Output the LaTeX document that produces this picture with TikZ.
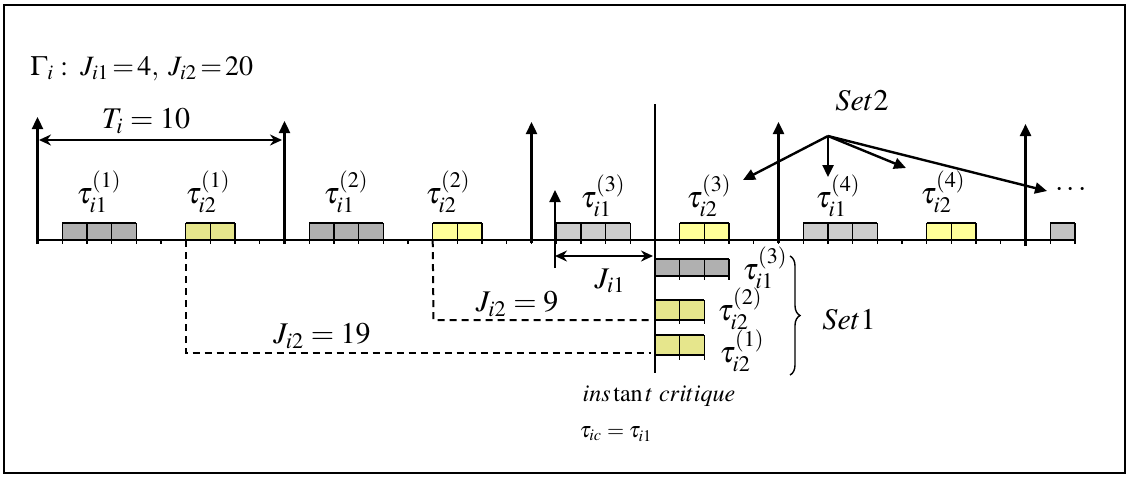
\documentclass[tikz,border=0pt]{standalone}
\usepackage{mathptmx}
\usepackage[no-math]{fontspec}
\setmainfont{Liberation Serif}
\usetikzlibrary{arrows.meta,decorations.pathreplacing}
\definecolor{gdark}{HTML}{B0B0B0}
\definecolor{glight}{HTML}{CDCDCD}
\definecolor{gmid}{HTML}{C2C2C2}
\definecolor{ygreen}{HTML}{E6E68C}
\definecolor{ylight}{HTML}{FFFF99}
\tikzset{
  rel/.style={line width=1.2pt,-{Triangle[length=6pt,width=5.5pt]}},
  span/.style={line width=1pt,{Stealth[length=6pt,width=5.5pt]}-{Stealth[length=6pt,width=5.5pt]}},
  setarrow/.style={line width=1.2pt,-{Triangle[length=6pt,width=5.5pt]}},
  jit/.style={line width=1pt,dash pattern=on 3.5pt off 2.5pt},
  lbl/.style={inner sep=0pt,font=\fontsize{15}{17}\selectfont},
  head/.style={inner sep=0pt,font=\fontsize{14}{16}\selectfont},
  small/.style={inner sep=0pt,font=\fontsize{12}{14}\selectfont},
  tiny/.style={inner sep=0pt,font=\fontsize{11}{13}\selectfont},
}
% name, t0, ncells, fill, ytop, ybottom, tickbottom
\newcommand\tbox[7]{%
  \pgfmathsetmacro\xa{37.5+24.7*#2}%
  \pgfmathsetmacro\xb{37.5+24.7*(#2+#3)}%
  \path[fill=#4] (\xa,#5) rectangle (\xb,#6);
  \draw[line width=0.7pt] (\xa,#5) -- (\xb,#5) (\xa,#6) -- (\xb,#6);
  \foreach \k in {0,...,#3} {\draw[line width=0.7pt] ({37.5+24.7*(#2+\k)},#5) -- ({37.5+24.7*(#2+\k)},#7);}
  \coordinate (#1) at (\xa,#6);
}
\begin{document}
\begin{tikzpicture}[x=0.5pt,y=-0.5pt]
\useasboundingbox (0,0) rectangle (1128,479);
\draw[line width=1pt] (4,5) rectangle (1125,473);

% header
\node[head,anchor=base west] (gam) at (30,75) {$\Gamma_i:\; J_{i1}\!=\!4,\; J_{i2}\!=\!20$};

% timeline
\draw[line width=0.6pt] (37.5,240) -- (1075,240);
\foreach \t in {0,...,42} {\draw[line width=0.6pt] ({37.5+24.7*\t},240) -- ({37.5+24.7*\t},244);}

% boxes on the timeline
\tbox{b11}{1}{3}{gdark}{223}{240}{244}
\tbox{b21}{6}{2}{ygreen}{223}{240}{244}
\tbox{b12}{11}{3}{gdark}{223}{240}{244}
\tbox{b22}{16}{2}{ylight}{223}{240}{244}
\tbox{b13}{21}{3}{glight}{223}{240}{244}
\tbox{b23}{26}{2}{ylight}{223}{240}{244}
\tbox{b14}{31}{3}{glight}{223}{240}{244}
\tbox{b24}{36}{2}{ylight}{223}{240}{244}
\tbox{b15}{41}{1}{gmid}{223}{240}{244}

% Set1 boxes
\tbox{s13}{25}{3}{gdark}{259}{276}{280}
\tbox{s22}{25}{2}{ygreen}{300}{320}{324}
\tbox{s21}{25}{2}{ygreen}{335}{355}{360}

% release arrows
\coordinate (r0b) at (37.5,244); \coordinate (r0t) at (37.5,117);
\coordinate (r1b) at (284.5,244); \coordinate (r1t) at (284.5,121);
\coordinate (r2b) at (531.5,243); \coordinate (r2t) at (531.5,122);
\coordinate (r3b) at (778.5,243); \coordinate (r3t) at (778.5,122);
\coordinate (r4b) at (1025.5,246); \coordinate (r4t) at (1025.5,124);
\foreach \i in {0,...,4} {\draw[rel] (r\i b) -- (r\i t);}

% period
\coordinate (pa) at (39,140); \coordinate (pb) at (282,140);
\draw[span] (pa) -- (pb);
\node[lbl] (Ti) at (146,121) {$T_i=10$};

% critical instant line
\coordinate (cTop) at (655,104); \coordinate (cBot) at (655,373);
\draw[line width=1.2pt] (cTop) -- (cBot);

% jitter J_i1
\coordinate (jb) at (555,268); \coordinate (jt) at (555,190);
\draw[rel] (jb) -- (jt);
\coordinate (ja) at (555,256); \coordinate (jc) at (653,256);
\draw[span] (ja) -- (jc);
\node[lbl] (Ji1) at (610,281) {$J_{i1}$};

% jitter J_i2 dashed
\coordinate (d1) at (433.5,320); \coordinate (d1e) at (651,320);
\draw[jit] (b22) -- (d1) -- (d1e);
\node[lbl] (J9) at (517,304) {$J_{i2}=9$};
\coordinate (d2) at (185.7,353); \coordinate (d2e) at (651,353);
\draw[jit] (b21) -- (d2) -- (d2e);
\node[lbl] (J19) at (322,336) {$J_{i2}=19$};

% task labels
\node[lbl] (t11) at (99,192) {$\tau_{i1}^{(1)}$};
\node[lbl] (t21) at (208,192) {$\tau_{i2}^{(1)}$};
\node[lbl] (t12) at (346,192) {$\tau_{i1}^{(2)}$};
\node[lbl] (t22) at (448,192) {$\tau_{i2}^{(2)}$};
\node[lbl] (t13) at (603,196) {$\tau_{i1}^{(3)}$};
\node[lbl] (t23) at (709,196) {$\tau_{i2}^{(3)}$};
\node[lbl] (t14) at (838,196) {$\tau_{i1}^{(4)}$};
\node[lbl] (t24) at (943,192) {$\tau_{i2}^{(4)}$};
\node[lbl] (dots) at (1071,190) {$\cdots$};

% Set2
\node[lbl] (set2) at (862,101) {$Set2$};
\coordinate (s2o) at (828,136);
\draw[setarrow] (s2o) -- (743,180);
\draw[setarrow] (s2o) -- (828,177);
\draw[setarrow] (s2o) -- (906,168);
\draw[setarrow] (s2o) -- (1047,191);

% Set1 labels
\node[lbl] (u13) at (765,268) {$\tau_{i1}^{(3)}$};
\node[lbl] (u22) at (740,309) {$\tau_{i2}^{(2)}$};
\node[lbl] (u21) at (742,351) {$\tau_{i2}^{(1)}$};
\draw[line width=0.7pt,decorate,decoration={brace,amplitude=5pt}] (790,256) -- (790,375);
\node[lbl] (set1) at (849,320) {$Set1$};

% bottom text
\node[small] (inst) at (659,396) {$ins\tan t\ critique$};
\node[tiny] (tic) at (616,434) {$\tau_{ic}=\tau_{i1}$};
\end{tikzpicture}
\end{document}
